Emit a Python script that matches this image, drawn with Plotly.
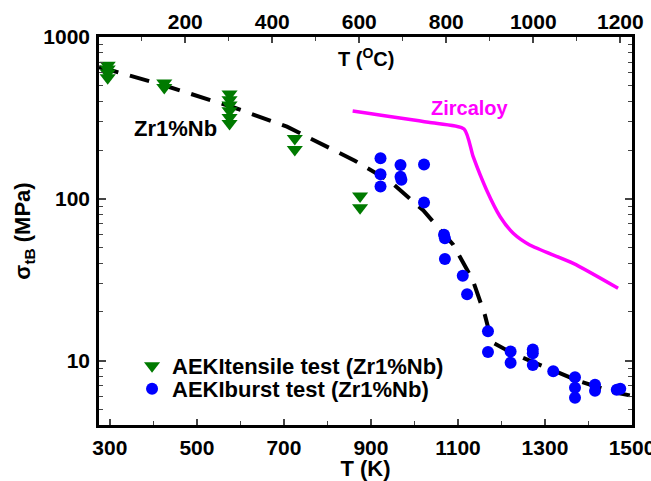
import plotly.graph_objects as go

# ---- data ----
tensile_T = [295, 295, 295, 295, 425, 425, 575, 575, 575, 575, 575, 575, 725, 725, 875, 875]
tensile_s = [670, 635, 600, 560, 520, 488, 445, 410, 380, 350, 318, 292, 236, 202, 104, 88]

burst_T = [922, 922, 922, 968, 968, 970, 1022, 1022, 1068, 1070, 1070, 1111, 1121,
           1169, 1169, 1221, 1221, 1272, 1272, 1272, 1319, 1369, 1369, 1369,
           1415, 1415, 1465, 1473]
burst_s = [178, 142, 119, 162, 137, 131, 163, 95, 60, 57, 42.5, 33.4, 25.7,
           15.2, 11.3, 11.4, 9.7, 11.7, 11.1, 9.4, 8.6, 7.9, 6.8, 5.9,
           7.1, 6.5, 6.6, 6.7]

fit_T = [275, 300, 422, 588, 707, 783, 863, 944, 1020, 1089, 1134, 1162, 1170, 1178,
         1220, 1250, 1376, 1456, 1495]
fit_s = [650, 625, 505, 364, 279, 222, 172, 128, 85, 52, 31.5, 19.1, 15.5, 13.0,
         11.3, 10.4, 7.5, 6.4, 6.1]

zirc_T = [858, 1032, 1114, 1135, 1166, 1197, 1227, 1265, 1365, 1468]
zirc_s = [349, 297, 270, 182, 113, 77.5, 61.2, 51.8, 39.9, 28.0]

x_ticks_K = [300, 500, 700, 900, 1100, 1300, 1500]
x_ticks_C = [200, 400, 600, 800, 1000, 1200]
y_ticks = [10, 100, 1000]
K_OFFSET = 273.15

FONT = "Liberation Sans, Arial, sans-serif"
x_range = [275, 1500]

fig = go.Figure()

fig.add_trace(go.Scatter(
    x=fit_T, y=fit_s, mode="lines", showlegend=False, hoverinfo="skip",
    line=dict(color="black", width=4, dash="20px,12px")))

fig.add_trace(go.Scatter(
    x=zirc_T, y=zirc_s, mode="lines", showlegend=False, hoverinfo="skip",
    line=dict(color="#ff00ff", width=3.5, shape="spline", smoothing=0.6)))

fig.add_trace(go.Scatter(
    x=tensile_T, y=tensile_s, mode="markers", name="AEKItensile test (Zr1%Nb)",
    legend="legend",
    marker=dict(symbol="triangle-down", size=14, color="#007a00")))

fig.add_trace(go.Scatter(
    x=burst_T, y=burst_s, mode="markers", name="AEKIburst test (Zr1%Nb)",
    legend="legend2",
    marker=dict(symbol="circle", size=12, color="#0000ff")))

minor_y = [v * m for m in (1, 10, 100) for v in range(2, 10) if 4 <= v * m < 1000]

legend_common = dict(xanchor="left", yanchor="middle", bgcolor="rgba(0,0,0,0)",
                     font=dict(size=22, weight="bold"), itemsizing="trace")

fig.update_layout(
    width=651, height=481,
    margin=dict(l=99, r=19, t=37, b=56, autoexpand=False),
    paper_bgcolor="white", plot_bgcolor="white",
    font=dict(family=FONT, size=21, color="black", weight="bold"),
    xaxis=dict(
        range=x_range, tickvals=x_ticks_K, ticks="inside", ticklen=6, tickwidth=1.5,
        showline=True, linecolor="black", linewidth=2.5, showgrid=False, zeroline=False,
        tickfont=dict(size=21, weight="bold"), ticklabelstandoff=2, automargin=False,
        ticklabeloverflow="allow",
        minor=dict(dtick=100, tick0=300, ticks="inside", ticklen=4, tickwidth=1.2),
        title=dict(text="T (K)", font=dict(size=22, weight="bold"), standoff=6),
    ),
    xaxis2=dict(
        overlaying="x", side="top", anchor="y",
        range=[x_range[0] - K_OFFSET, x_range[1] - K_OFFSET],
        tickvals=x_ticks_C, ticks="inside", ticklen=6, tickwidth=1.5,
        showline=True, linecolor="black", linewidth=2.5, showgrid=False, zeroline=False,
        tickfont=dict(size=21, weight="bold"), ticklabelstandoff=-3, automargin=False,
        ticklabeloverflow="allow",
        minor=dict(dtick=100, tick0=0, ticks="inside", ticklen=4, tickwidth=1.2),
    ),
    yaxis=dict(
        type="log", range=[0.602, 3.0], tickvals=y_ticks, ticktext=[str(v) for v in y_ticks],
        ticks="inside", ticklen=7, tickwidth=1.5, mirror="ticks",
        showline=True, linecolor="black", linewidth=2.5, showgrid=False, zeroline=False,
        tickfont=dict(size=21, weight="bold"), ticklabelstandoff=2, automargin=False,
        minor=dict(tickvals=minor_y, ticks="inside", ticklen=4, tickwidth=1.2),
        title=dict(text="σ<sub>tB</sub> (MPa)", font=dict(size=22, weight="bold"), standoff=7),
    ),
    legend=dict(x=0.062, y=(425 - 366) / 388, **legend_common),
    legend2=dict(x=0.062, y=(425 - 389) / 388, **legend_common),
    annotations=[
        dict(text="Zr1%Nb", x=450, y=2.4376, xref="x", yref="y", showarrow=False,
             font=dict(size=22, weight="bold", color="black")),
        dict(text="Zircaloy", x=1127, y=2.561, xref="x", yref="y", showarrow=False,
             font=dict(size=20, weight="bold", color="#ff00ff")),
        dict(text="T (<sup>O</sup>C)", x=(366 - 99) / 533, y=(425 - 43) / 388,
             xref="paper", yref="paper", showarrow=False,
             font=dict(size=20, weight="bold", color="black")),
    ],
)

fig.add_trace(go.Scatter(x=[None], y=[None], xaxis="x2", showlegend=False, hoverinfo="skip"))

fig.write_html("out.html", config={"displayModeBar": False},
               post_script="document.body.style.margin='0';document.body.style.overflow='hidden';")
